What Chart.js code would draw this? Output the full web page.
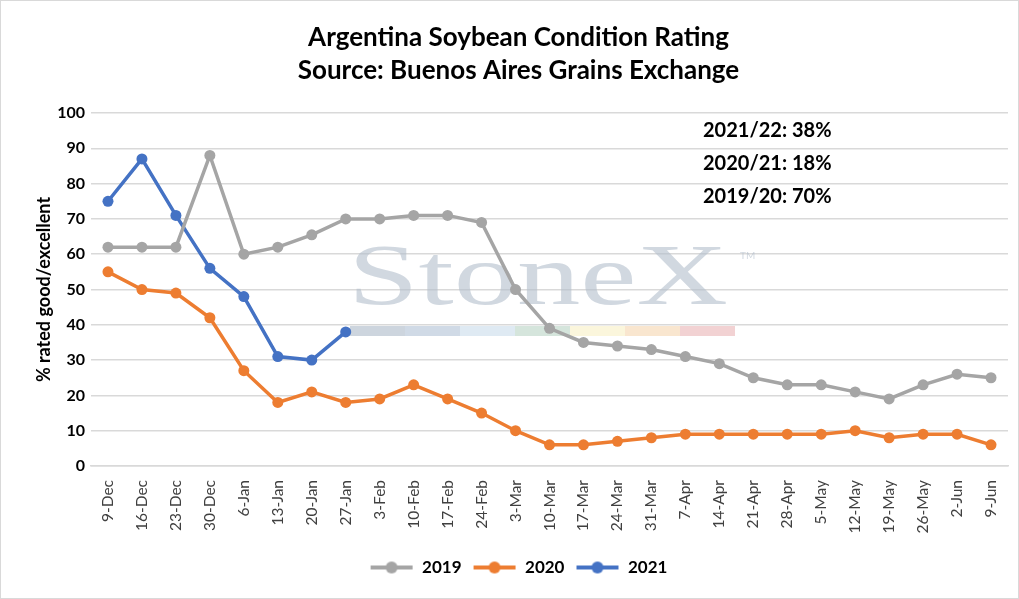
<!DOCTYPE html>
<html>
<head>
<meta charset="utf-8">
<script src="https://cdn.jsdelivr.net/npm/chart.js@4/dist/chart.umd.min.js"></script>
<style>
  html, body { margin: 0; padding: 0; background: #fff; }
  #wrap { width: 1017px; height: 597px; border: 1px solid #d9d9d9; }
</style>
</head>
<body>
<div id="wrap"><canvas id="myChart" width="1017" height="597"></canvas></div>
<script>
const weeks = ['9-Dec', '16-Dec', '23-Dec', '30-Dec', '6-Jan', '13-Jan', '20-Jan', '27-Jan', '3-Feb', '10-Feb', '17-Feb', '24-Feb', '3-Mar', '10-Mar', '17-Mar', '24-Mar', '31-Mar', '7-Apr', '14-Apr', '21-Apr', '28-Apr', '5-May', '12-May', '19-May', '26-May', '2-Jun', '9-Jun']
const season2019 = [62, 62, 62, 88, 60, 62, 65.5, 70, 70, 71, 71, 69, 50, 39, 35, 34, 33, 31, 29, 25, 23, 23, 21, 19, 23, 26, 25]
const season2020 = [55, 50, 49, 42, 27, 18, 21, 18, 19, 23, 19, 15, 10, 6, 6, 7, 8, 9, 9, 9, 9, 9, 10, 8, 9, 9, 6]
const season2021 = [75, 87, 71, 56, 48, 31, 30, 38]
const notes = ['2021/22: 38%', '2020/21: 18%', '2019/20: 70%']
const FONT = 'Lato, "Open Sans", sans-serif'

// little line-with-dot image for the legend
function legendMark(color) {
    const cv = document.createElement('canvas')
    cv.width = 44
    cv.height = 14
    const g = cv.getContext('2d')
    g.strokeStyle = color
    g.lineWidth = 4
    g.beginPath()
    g.moveTo(1, 7)
    g.lineTo(43, 7)
    g.stroke()
    g.fillStyle = color
    g.beginPath()
    g.arc(22, 7, 6, 0, Math.PI * 2)
    g.fill()
    return cv
}

// watermark + text notes drawn on the canvas
const overlay = {
    id: 'overlay',
    beforeDatasetsDraw(chart) {
        const c = chart.ctx
        c.save()
        c.fillStyle = 'rgba(178,190,203,0.6)'
        c.font = '86px "Liberation Serif", serif'
        c.textBaseline = 'alphabetic'
        const w = c.measureText('StoneX').width
        c.translate(347, 303)
        c.scale(380 / w, 1)
        c.fillText('StoneX', 0, 0)
        c.setTransform(1, 0, 0, 1, 0, 0)
        c.font = '10px ' + FONT
        c.fillText('TM', 739, 258)
        const bars = ['#cdd5de', '#d0dae6', '#dfeaf3', '#d5e5dc', '#fbf6dc', '#f9e6cf', '#f2d2d3']
        bars.forEach((col, i) => {
            c.fillStyle = col
            c.fillRect(349 + i * 55, 325, 55, 10)
        })
        c.restore()
    },
    afterDraw(chart) {
        const c = chart.ctx
        c.save()
        c.fillStyle = '#000'
        c.font = 'bold 20px ' + FONT
        c.textBaseline = 'middle'
        notes.forEach((t, i) => c.fillText(t, 702, 130 + i * 33))
        c.restore()
    }
}

const ctx = document.getElementById('myChart').getContext('2d')
const chart = new Chart(ctx, {
    type: 'line',
    data: {
        labels: weeks,
        datasets: [{
            label: '2019',
            data: season2019,
            borderColor: '#A5A5A5',
            backgroundColor: '#A5A5A5'
        }, {
            label: '2020',
            data: season2020,
            borderColor: '#ED7D31',
            backgroundColor: '#ED7D31'
        }, {
            label: '2021',
            data: season2021,
            borderColor: '#4472C4',
            backgroundColor: '#4472C4'
        }]
    },
    options: {
        responsive: false,
        animation: false,
        layout: { padding: { left: 28, right: 10, top: 0, bottom: 12 } },
        elements: {
            line: { borderWidth: 3.5, tension: 0 },
            point: { radius: 5.5, borderWidth: 0, hoverRadius: 5.5 }
        },
        plugins: {
            title: {
                display: true,
                text: ['Argentina Soybean Condition Rating', 'Source: Buenos Aires Grains Exchange'],
                color: '#000',
                font: { family: FONT, size: 26, weight: 'bold', lineHeight: 1.27 },
                padding: { top: 20, bottom: 26 }
            },
            legend: {
                position: 'bottom',
                labels: {
                    color: '#000',
                    font: { family: FONT, size: 17, weight: 'bold' },
                    usePointStyle: true,
                    pointStyleWidth: 44,
                    padding: 11,
                    generateLabels(chart) {
                        return chart.data.datasets.map((ds, i) => ({
                            text: ds.label,
                            strokeStyle: ds.borderColor,
                            fillStyle: ds.borderColor,
                            lineWidth: 0,
                            pointStyle: legendMark(ds.borderColor),
                            datasetIndex: i
                        }))
                    }
                }
            },
            tooltip: { enabled: false }
        },
        scales: {
            x: {
                offset: true,
                afterFit(scale) { scale.height = 82 },
                grid: { display: false },
                border: { color: '#d9d9d9', width: 1.5 },
                ticks: {
                    color: '#404040',
                    padding: 6,
                    font: { family: FONT, size: 15.5 },
                    maxRotation: 90,
                    minRotation: 90,
                    autoSkip: false
                }
            },
            y: {
                min: 0,
                max: 100,
                afterFit(scale) { scale.width = 62 },
                grid: { color: '#d9d9d9', lineWidth: 1.5, drawTicks: false },
                border: { display: false },
                ticks: {
                    stepSize: 10,
                    color: '#000',
                    padding: 6,
                    font: { family: FONT, size: 16, weight: 'bold' }
                },
                title: {
                    display: true,
                    text: '% rated good/excellent',
                    color: '#000',
                    font: { family: FONT, size: 18, weight: 'bold' }
                }
            }
        }
    },
    plugins: [overlay]
})
</script>
</body>
</html>
